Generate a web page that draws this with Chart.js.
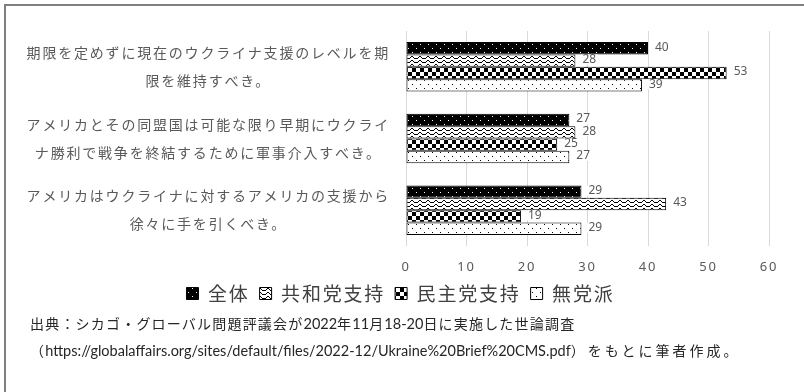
<!DOCTYPE html>
<html lang="ja">
<head>
<meta charset="utf-8">
<title>ウクライナ支援に関する世論調査</title>
<script src="https://cdn.jsdelivr.net/npm/chart.js@4/dist/chart.umd.min.js"></script>
<style>
  html, body { margin: 0; padding: 0; background: #fff; }
  #wrap { position: relative; width: 804px; height: 392px; overflow: hidden; }
  #frame { position: absolute; left: 4px; top: 4px; width: 900px; height: 500px;
           border: 2px solid #7f7f7f; box-sizing: border-box; }
  #c { position: absolute; left: 0; top: 0; }
  .src { position: absolute; left: 30px; white-space: nowrap; line-height: 20px;
         font-family: "Noto Sans CJK JP", sans-serif; font-size: 14px; color: #262626; }
  .ja { letter-spacing: 1.2px; }
  .ja2 { letter-spacing: 3px; }
  .lat { font-family: Lato, "Noto Sans", sans-serif; font-size: 14.5px; }
</style>
</head>
<body>
<div id="wrap">
  <div id="frame"></div>
  <canvas id="c" width="804" height="392"></canvas>
  <div class="src" style="top:313px"><span class="ja">出典：シカゴ・グローバル問題評議会が</span><span class="lat">2022</span><span class="ja">年</span><span class="lat">11</span><span class="ja">月</span><span class="lat">18-20</span><span class="ja">日に実施した世論調査</span></div>
  <div class="src" style="top:340px"><span class="ja">（</span><span class="lat">https://globalaffairs.org/sites/default/files/2022-12/Ukraine%20Brief%20CMS.pdf</span><span class="ja2">）をもとに筆者作成。</span></div>
</div>
<script>
// Survey statements (each split over two lines)
const categories = [
  ['期限を定めずに現在のウクライナ支援のレベルを期', '限を維持すべき。'],
  ['アメリカとその同盟国は可能な限り早期にウクライ', 'ナ勝利で戦争を終結するために軍事介入すべき。'],
  ['アメリカはウクライナに対するアメリカの支援から', '徐々に手を引くべき。']
];
const seriesNames = ['全体', '共和党支持', '民主党支持', '無党派'];
const overall     = [40, 27, 29];
const republican  = [28, 28, 43];
const democrat    = [53, 25, 19];
const independent = [39, 27, 29];
const xTicks = [0, 10, 20, 30, 40, 50, 60];

const canvas = document.getElementById('c');
const ctx = canvas.getContext('2d');

// Build a repeating monochrome fill from a small bitmap ('#' = foreground pixel)
function makePattern(rows, fg, bg) {
  const h = rows.length, w = rows[0].length;
  const tile = document.createElement('canvas');
  tile.width = w; tile.height = h;
  const g = tile.getContext('2d');
  g.fillStyle = bg; g.fillRect(0, 0, w, h);
  g.fillStyle = fg;
  rows.forEach((r, y) => { for (let x = 0; x < w; x++) if (r[x] === '#') g.fillRect(x, y, 1, 1); });
  return ctx.createPattern(tile, 'repeat');
}

const sparseDots = ['#.......', '........', '........', '........',
                    '....#...', '........', '........', '........'];
const wave = ['...##...', '..#..#..', '##....##', '........'];
const checker = ['####....', '####....', '####....', '####....',
                 '....####', '....####', '....####', '....####'];

const fills = [
  makePattern(sparseDots, '#ffffff', '#000000'),
  makePattern(wave, '#000000', '#ffffff'),
  makePattern(checker, '#000000', '#ffffff'),
  makePattern(sparseDots, '#000000', '#ffffff')
];
const seriesValues = [overall, republican, democrat, independent];

const JP = '"Noto Sans CJK JP", sans-serif';
const NUM = '"Noto Sans", sans-serif';
const SPACING = '1.8px';

// Japanese text in this chart is set with a little tracking
const tracking = {
  id: 'tracking',
  beforeUpdate(chart) { chart.ctx.letterSpacing = SPACING; },
  beforeDraw(chart) { chart.ctx.letterSpacing = SPACING; }
};

// Centre the legend row under the whole figure
const legendShift = {
  id: 'legendShift',
  afterLayout(chart) {
    const lg = chart.legend;
    if (lg) { lg.left += 16; lg.right += 16; }
  }
};

// Value labels at the end of each bar
const valueLabels = {
  id: 'valueLabels',
  afterDatasetsDraw(chart) {
    const c = chart.ctx;
    c.save();
    c.letterSpacing = '0px';
    c.font = '12px ' + NUM;
    c.textBaseline = 'middle';
    c.textAlign = 'left';
    chart.data.datasets.forEach((ds, i) => {
      chart.getDatasetMeta(i).data.forEach((bar, j) => {
        const text = String(ds.data[j]);
        const w = c.measureText(text).width;
        const x = bar.x + 7, y = bar.y - 1;
        c.fillStyle = '#ffffff';
        c.fillRect(x - 2, y - 5, w + 4, 10);
        c.fillStyle = '#595959';
        c.fillText(text, x, y);
      });
    });
    c.restore();
  }
};

new Chart(ctx, {
  type: 'bar',
  data: {
    labels: categories,
    datasets: seriesNames.map((name, i) => ({
      label: name,
      data: seriesValues[i],
      backgroundColor: fills[i],
      borderColor: '#000000',
      borderWidth: 1,
      borderSkipped: false,
      categoryPercentage: 0.69,
      barPercentage: 1.0
    }))
  },
  options: {
    indexAxis: 'y',
    responsive: false,
    animation: false,
    devicePixelRatio: 1,
    events: [],
    layout: { padding: { top: 31, right: 35, bottom: 79, left: 0 } },
    scales: {
      x: {
        min: 0, max: 60,
        afterBuildTicks(s) { s.ticks = xTicks.map(v => ({ value: v })); },
        afterFit(s) { s.height = 28; },
        ticks: { color: '#595959', font: { family: NUM, size: 13 }, padding: 13 },
        grid: { color: '#d9d9d9', lineWidth: 1, drawTicks: false },
        border: { display: false }
      },
      y: {
        afterFit(s) { s.width = 406; s.paddingTop = 0; s.paddingBottom = 0; },
        ticks: {
          color: '#595959', crossAlign: 'center', padding: 16, autoSkip: false,
          font: { family: JP, size: 14, lineHeight: 2 }
        },
        grid: { display: false, drawTicks: false },
        border: { display: false }
      }
    },
    plugins: {
      legend: {
        position: 'bottom',
        labels: {
          boxWidth: 12, boxHeight: 12, padding: 10,
          color: '#404040', font: { family: JP, size: 19 }
        }
      },
      tooltip: { enabled: false }
    }
  },
  plugins: [tracking, legendShift, valueLabels]
});
</script>
</body>
</html>
